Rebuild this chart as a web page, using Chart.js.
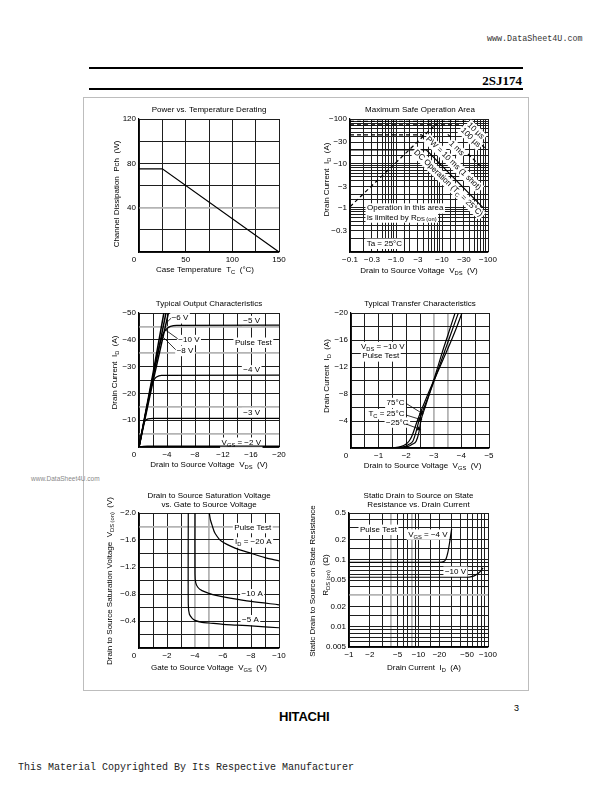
<!DOCTYPE html>
<html><head><meta charset="utf-8">
<script src="https://cdn.jsdelivr.net/npm/chart.js@4/dist/chart.umd.min.js"></script>
<style>
body{margin:0;background:#fff;width:614px;height:792px;position:relative;overflow:hidden;font-family:"Liberation Sans",Arial,sans-serif;color:#000}
.abs{position:absolute;white-space:nowrap;line-height:1}
canvas{position:absolute}
</style></head><body>
<div class="abs" style="left:487px;top:34px;font:8.4px 'Liberation Mono',monospace;color:#333">www.DataSheet4U.com</div>
<div style="position:absolute;left:89px;top:67px;width:434px;height:1.5px;background:#000"></div>
<div class="abs" style="right:92px;top:73px;font:bold 13px 'Liberation Serif',serif;">2SJ174</div>
<div style="position:absolute;left:89px;top:88px;width:434px;height:1.5px;background:#000"></div>
<div style="position:absolute;left:83px;top:97px;width:444px;height:592px;border:1px solid #bdbdbd"></div>
<div class="abs" style="left:31px;top:475px;font:6.5px 'Liberation Sans',Arial,sans-serif;color:#888">www.DataSheet4U.com</div>
<div class="abs" style="left:514px;top:703px;font:9px 'Liberation Sans',Arial,sans-serif;">3</div>
<div class="abs" style="left:279px;top:709px;font:bold 13px 'Liberation Sans',Arial,sans-serif;letter-spacing:-0.2px">HITACHI</div>
<div class="abs" style="left:18px;top:762px;font:10px 'Liberation Mono',monospace;color:#222">This Material Copyrighted By Its Respective Manufacturer</div>
<script>
// ================= DATA =================
// Chart 1: Power vs. Temperature Derating
const derateTc  = [0, 25, 150];
const deratePch = [75, 75, 0];
const c1XLabelVals = [50, 100, 150];
const c1YLabelVals = [40, 80, 120];

// Chart 2: Maximum Safe Operation Area  (magnitudes |VDS| V, |ID| A on log axes; labelled negative)
const soaRdsV   = [0.1, 7.7];          const soaRdsI   = [1.05, 80];
const soa10usV  = [0.1, 45, 86];       const soa10usI  = [88, 88, 46];
const soa100usV = [0.1, 26, 86];       const soa100usI = [74, 74, 22];
const soa1msV   = [13.4, 80];          const soa1msI   = [45, 7.4];
const soa10msV  = [0.1, 3.6, 80];      const soa10msI  = [44, 44, 2.9];
const soaDcV    = [0.1, 4.6, 78];      const soaDcI    = [20, 20, 1.0];
const c2XLabelVals = [0.1, 0.3, 1, 3, 10, 30, 100];
const c2XLabelTxt  = ['\u22120.1', '\u22120.3', '\u22121.0', '\u22123', '\u221210', '\u221230', '\u2212100'];
const c2YLabelVals = [0.3, 1, 3, 10, 30, 100];
const c2YLabelTxt  = ['\u22120.3', '\u22121', '\u22123', '\u221210', '\u221230', '\u2212100'];

// Chart 3: Typical Output Characteristics (VDS V, ID A)
const out10Vds = [0, -2, -3.55];                 const out10Id = [0, -27.5, -50];
const out8Vds  = [0, -2, -3.85];                 const out8Id  = [0, -26, -50];
const out6Vds  = [0, -2, -4.2];                  const out6Id  = [0, -24.5, -50];
const out5Vds  = [0, -1.5, -2.5, -3.2, -3.5, -4.0, -4.5, -5.4, -20];
const out5Id   = [0, -20, -33, -40.5, -42.5, -44.2, -45.0, -45.4, -45.5];
const out4Vds  = [0, -1.0, -1.5, -1.8, -2.2, -2.5, -3.2, -20];
const out4Id   = [0, -13.5, -19.5, -22.8, -25.3, -26.1, -26.7, -26.8];
const out3Vds  = [0, -0.5, -0.76, -1.0, -1.33, -2.05, -20];
const out3Id   = [0, -6.5, -9.3, -10.1, -10.5, -10.7, -10.7];
const out2Vds  = [0, -0.6, -1.2, -20];           const out2Id  = [0, -0.25, -0.35, -0.35];
const lead6Vds = [-4.1, -4.6];   const lead6Id = [-46.8, -48.1];
const lead10Vds = [-3.71, -5.53]; const lead10Id = [-43.8, -40.4];
const lead8Vds = [-3.48, -5.24];  const lead8Id = [-40.9, -36.3];
const c3XLabelVals = [-4, -8, -12, -16, -20];
const c3YLabelVals = [-10, -20, -30, -40, -50];

// Chart 4: Typical Transfer Characteristics (VGS V, ID A)
const tr75Vgs  = [-1.5, -1.8, -2.0, -2.1, -2.2, -2.4, -2.6, -2.8, -3.0, -3.2, -3.4, -3.6, -3.8, -4.02];
const tr75Id   = [0, -0.2, -0.6, -1.0, -1.7, -4.0, -6.1, -8.1, -10.0, -11.8, -13.7, -15.6, -17.6, -20];
const tr25Vgs  = [-1.6, -1.95, -2.1, -2.24, -2.35, -2.46, -2.6, -2.8, -3.0, -3.2, -3.4, -3.6, -3.89];
const tr25Id   = [0, -0.2, -0.55, -1.0, -2.3, -4.0, -5.5, -7.6, -9.8, -12.1, -14.4, -16.7, -20];
const trm25Vgs = [-1.7, -2.05, -2.22, -2.36, -2.46, -2.53, -2.7, -2.9, -3.1, -3.3, -3.5, -3.77];
const trm25Id  = [0, -0.2, -0.55, -1.0, -2.3, -4.0, -6.2, -8.8, -11.4, -14.1, -16.6, -20];
const arr75Vgs = [-1.99, -2.55];  const arr75Id = [-6.62, -5.2];
const arr25Vgs = [-1.99, -2.5];   const arr25Id = [-4.89, -4.25];
const arrm25Vgs = [-1.99, -2.45]; const arrm25Id = [-3.56, -2.85];
const c4XLabelVals = [-1, -2, -3, -4, -5];
const c4YLabelVals = [-4, -8, -12, -16, -20];

// Chart 5: VDS(on) vs VGS
const sat20Vgs = [-5.02, -5.1, -5.25, -5.43, -5.9, -6.86, -8.05, -9, -10];
const sat20Vds = [-2.0, -1.9, -1.8, -1.70, -1.58, -1.48, -1.40, -1.34, -1.29];
const sat10Vgs = [-4.0, -4.0, -4.05, -4.2, -4.5, -5, -5.5, -6.5, -8, -10];
const sat10Vds = [-2.0, -1.1, -0.97, -0.9, -0.85, -0.81, -0.78, -0.74, -0.69, -0.64];
const sat5Vgs  = [-3.52, -3.52, -3.6, -3.8, -4.0, -4.5, -5, -6, -7, -8.5, -10];
const sat5Vds  = [-2.0, -0.65, -0.5, -0.44, -0.41, -0.38, -0.37, -0.35, -0.34, -0.32, -0.30];
const c5XLabelVals = [-2, -4, -6, -8, -10];
const c5YLabelVals = [-0.4, -0.8, -1.2, -1.6, -2.0];

// Chart 6: RDS(on) vs ID  (|ID| A on log axis, labelled negative)
const ron4Id  = [1, 20, 23, 25, 26.5, 28, 29, 30];
const ron4R   = [0.092, 0.092, 0.094, 0.105, 0.13, 0.18, 0.23, 0.29];
const ron10Id = [1, 50, 58, 66, 74, 80, 85];
const ron10R  = [0.055, 0.055, 0.056, 0.059, 0.064, 0.07, 0.076];
const c6XLabelVals = [1, 2, 5, 10, 20, 50, 100];
const c6YLabelVals = [0.005, 0.01, 0.02, 0.05, 0.1, 0.2, 0.5];

// ================= HELPERS =================
const FAM = '"Liberation Sans", Arial, sans-serif';
Chart.defaults.font.family = FAM;
Chart.defaults.color = '#000';
const M = '\u2212';
const near = (a, b) => Math.abs(a - b) <= 1e-6 * Math.max(1, Math.abs(b));
function labelCb(vals, texts, fmt) {
  return (v) => {
    const i = vals.findIndex(t => near(v, t));
    if (i < 0) return '';
    if (texts) return texts[i];
    return fmt ? fmt(vals[i]) : (vals[i] < 0 ? M + Math.abs(vals[i]) : String(vals[i]));
  };
}
function series(xs, ys, opt) {
  return Object.assign({
    data: xs.map((x, i) => ({x: x, y: ys[i]})),
    borderColor: '#000', borderWidth: 1.2, pointRadius: 0, fill: false, tension: 0
  }, opt || {});
}
function arrowRot(c) {
  const ch = c.chart, d = c.dataset.data, sx = ch.scales.x, sy = ch.scales.y;
  const x0 = sx.getPixelForValue(d[0].x), y0 = sy.getPixelForValue(d[0].y);
  const x1 = sx.getPixelForValue(d[1].x), y1 = sy.getPixelForValue(d[1].y);
  return Math.atan2(y1 - y0, x1 - x0) * 180 / Math.PI + 90;
}
function arrow(xs, ys) {
  return series(xs, ys, {borderWidth: 0.8, pointStyle: 'triangle', backgroundColor: '#000',
    pointBackgroundColor: '#000', pointBorderColor: '#000', pointBorderWidth: 0.5,
    pointRadius: c => c.dataIndex === 1 ? 2.2 : 0, pointRotation: arrowRot});
}
function parseRich(str) {
  const out = []; const re = /_\{([^}]*)\}/g; let last = 0, m;
  while ((m = re.exec(str))) {
    if (m.index > last) out.push({s: str.slice(last, m.index), sub: false});
    out.push({s: m[1], sub: true}); last = re.lastIndex;
  }
  if (last < str.length) out.push({s: str.slice(last), sub: false});
  return out;
}
function drawRich(ctx, str, x, y, o) {
  const size = o.size || 8;
  const segs = parseRich(str);
  const fontFor = s => (o.bold ? 'bold ' : '') + (s.sub ? size * 0.72 : size) + 'px ' + FAM;
  let w = 0;
  segs.forEach(s => { ctx.font = fontFor(s); s.w = ctx.measureText(s.s).width; w += s.w; });
  ctx.save(); ctx.translate(x, y); if (o.rot) ctx.rotate(o.rot * Math.PI / 180);
  let x0 = o.align === 'left' ? 0 : o.align === 'right' ? -w : -w / 2;
  if (o.bg) { ctx.fillStyle = '#fff'; ctx.fillRect(x0 - 1.5, -size * 0.62, w + 3, size * 1.3); }
  ctx.fillStyle = '#000'; ctx.textBaseline = 'middle'; ctx.textAlign = 'left';
  segs.forEach(s => { ctx.font = fontFor(s); ctx.fillText(s.s, x0, s.sub ? size * 0.32 : 0); x0 += s.w; });
  ctx.restore();
}
function resolvePos(chart, it) {
  const a = chart.chartArea;
  if (it.data) return {x: chart.scales.x.getPixelForValue(it.data[0]), y: chart.scales.y.getPixelForValue(it.data[1])};
  const hx = it.h[0] === 'l' ? a.left : it.h[0] === 'r' ? a.right : (a.left + a.right) / 2;
  const vy = it.v[0] === 't' ? a.top : it.v[0] === 'b' ? a.bottom : (a.top + a.bottom) / 2;
  return {x: hx + it.h[1], y: vy + it.v[1]};
}
function drawItems(chart, layer) {
  const items = (chart.options.plugins.rich && chart.options.plugins.rich.items) || [];
  const ctx = chart.ctx;
  items.forEach(it => {
    if ((it.layer || 'under') !== layer) return;
    const p = resolvePos(chart, it);
    drawRich(ctx, it.t, p.x, p.y, it);
  });
}
const richPlugin = {
  id: 'rich',
  beforeDatasetsDraw(chart) { drawItems(chart, 'under'); },
  afterDatasetsDraw(chart) { drawItems(chart, 'over'); }
};
Chart.register(richPlugin);

const PADL = 48, PADB = 28, PADT = 28, PADR = 16;
function axis(pos, o) {
  const grey = o.grey || [];
  const isGrey = c => c.tick && grey.some(g => near(c.tick.value, g));
  return {
    type: o.type || 'linear', position: pos, min: o.min, max: o.max, reverse: !!o.reverse,
    afterFit: s => { if (pos === 'bottom') s.height = PADB; else s.width = PADL; },
    ticks: {stepSize: o.step, autoSkip: false, maxRotation: 0, minRotation: 0, padding: 3,
      color: '#000', font: {size: 8, family: FAM}, callback: o.cb},
    grid: {drawTicks: false, color: c => isGrey(c) ? '#b4b4b4' : '#1e1e1e',
      lineWidth: c => isGrey(c) ? 1.8 : 1},
    border: {display: true, color: '#000', width: 1.2},
    title: {display: false}
  };
}
function makeChart(box, datasets, xo, yo, items) {
  const cv = document.createElement('canvas');
  const w = box.R - box.L + PADL + PADR, h = box.B - box.T + PADT + PADB;
  cv.width = w; cv.height = h;
  cv.style.left = (box.L - PADL) + 'px'; cv.style.top = (box.T - PADT) + 'px';
  cv.style.width = w + 'px'; cv.style.height = h + 'px';
  document.body.appendChild(cv);
  return new Chart(cv.getContext('2d'), {
    type: 'line',
    data: {datasets: datasets},
    options: {
      responsive: false, animation: false, devicePixelRatio: 1, events: [],
      layout: {padding: {top: PADT, right: PADR, left: 0, bottom: 0}, autoPadding: false},
      plugins: {legend: {display: false}, tooltip: {enabled: false}, title: {display: false}, rich: {items: items}},
      scales: {x: axis('bottom', xo), y: axis('left', yo)}
    }
  });
}
const corner0 = {t: '0', h: ['l', -5], v: ['b', 7.5]};

// ================= CHART 1 =================
makeChart({L: 139, T: 119, R: 279, B: 252},
  [series(derateTc, deratePch)],
  {min: 0, max: 150, step: 25, cb: labelCb(c1XLabelVals)},
  {min: 0, max: 120, step: 20, cb: labelCb(c1YLabelVals), grey: [40]},
  [
    {t: 'Power vs. Temperature Derating', h: ['c', 0], v: ['t', -9]},
    {t: 'Case Temperature  T_{C}  (\u00B0C)', h: ['c', -4], v: ['b', 18]},
    {t: 'Channel Dissipation  Pch  (W)', h: ['l', -22], v: ['m', 8.5], rot: -90},
    corner0
  ]);

// ================= CHART 2 =================
const dash = {borderDash: [4, 3]};
makeChart({L: 350, T: 119, R: 488, B: 252},
  [series(soaRdsV, soaRdsI, dash), series(soa10usV, soa10usI, dash), series(soa100usV, soa100usI, dash),
   series(soa1msV, soa1msI, dash), series(soa10msV, soa10msI, dash), series(soaDcV, soaDcI)],
  {type: 'logarithmic', min: 0.1, max: 100, cb: labelCb(c2XLabelVals, c2XLabelTxt)},
  {type: 'logarithmic', min: 0.1, max: 100, cb: labelCb(c2YLabelVals, c2YLabelTxt)},
  [
    {t: 'Maximum Safe Operation Area', h: ['c', 1], v: ['t', -9]},
    {t: 'Drain to Source Voltage  V_{DS}  (V)', h: ['c', 0], v: ['b', 18.5]},
    {t: 'Drain Current  I_{D}  (A)', h: ['l', -23], v: ['m', -6], rot: -90},
    {t: '10 \u00B5s', data: [54, 54], rot: 44, bg: true, layer: 'over'},
    {t: '100 \u00B5s', data: [42, 38], rot: 44, bg: true, layer: 'over'},
    {t: '1 ms', data: [20.8, 21.8], rot: 44, bg: true, layer: 'over'},
    {t: 'PW = 10 ms (1 shot)', data: [17.7, 10], rot: 44, bg: true, layer: 'over'},
    {t: 'DC Operation (T_{C} = 25\u00B0C)', data: [13.7, 3.56], rot: 44, bg: true, layer: 'over'},
    {t: 'Operation in this area', data: [0.234, 0.97], align: 'left', bg: true, layer: 'over'},
    {t: 'is limited by R_{DS (on)}', data: [0.234, 0.606], align: 'left', bg: true, layer: 'over'},
    {t: 'Ta = 25\u00B0C', data: [0.23, 0.155], align: 'left', bg: true}
  ]);

// ================= CHART 3 =================
const mono = {cubicInterpolationMode: 'monotone'};
const thin = {borderWidth: 0.8};
makeChart({L: 139, T: 313, R: 279, B: 447},
  [series(out10Vds, out10Id, {borderWidth: 1.5}), series(out8Vds, out8Id, {borderWidth: 1.5}),
   series(out6Vds, out6Id, {borderWidth: 1.5}),
   series(out5Vds, out5Id, mono), series(out4Vds, out4Id, mono), series(out3Vds, out3Id, mono),
   series(out2Vds, out2Id, mono),
   series(lead6Vds, lead6Id, thin), series(lead10Vds, lead10Id, thin), series(lead8Vds, lead8Id, thin)],
  {min: -20, max: 0, reverse: true, step: 2, cb: labelCb(c3XLabelVals)},
  {min: -50, max: 0, reverse: true, step: 5, cb: labelCb(c3YLabelVals), grey: [-45, -35, -15, -5]},
  [
    {t: 'Typical Output Characteristics', h: ['c', 0], v: ['t', -9]},
    {t: 'Drain to Source Voltage  V_{DS}  (V)', h: ['c', 0], v: ['b', 18]},
    {t: 'Drain Current  I_{D}  (A)', h: ['l', -24], v: ['m', -7.5], rot: -90},
    corner0,
    {t: M + '6 V', data: [-4.67, -48.1], align: 'left', bg: true},
    {t: M + '10 V', data: [-5.62, -40.0], align: 'left', bg: true},
    {t: M + '8 V', data: [-5.38, -35.9], align: 'left', bg: true},
    {t: M + '5 V', data: [-14.9, -47.1], align: 'left', bg: true},
    {t: 'Pulse Test', data: [-13.7, -39], align: 'left', bg: true},
    {t: M + '4 V', data: [-14.9, -28.7], align: 'left', bg: true},
    {t: M + '3 V', data: [-14.9, -12.8], align: 'left', bg: true},
    {t: 'V_{GS} = ' + M + '2 V', data: [-11.8, -1.7], align: 'left', bg: true}
  ]);

// ================= CHART 4 =================
makeChart({L: 351, T: 313, R: 489, B: 448},
  [series(tr75Vgs, tr75Id, mono), series(tr25Vgs, tr25Id, mono), series(trm25Vgs, trm25Id, mono),
   arrow(arr75Vgs, arr75Id), arrow(arr25Vgs, arr25Id), arrow(arrm25Vgs, arrm25Id)],
  {min: -5, max: 0, reverse: true, step: 0.5, cb: labelCb(c4XLabelVals), grey: [-3, -3.5]},
  {min: -20, max: 0, reverse: true, step: 2, cb: labelCb(c4YLabelVals)},
  [
    {t: 'Typical Transfer Characteristics', h: ['c', 0], v: ['t', -9]},
    {t: 'Drain to Source Voltage  V_{GS}  (V)', h: ['c', 2.5], v: ['b', 18]},
    {t: 'Drain Current  I_{D}  (A)', h: ['l', -24], v: ['m', -4.5], rot: -90},
    corner0,
    {t: 'V_{DS} = ' + M + '10 V', data: [-0.36, -15.0], align: 'left', bg: true},
    {t: 'Pulse Test', data: [-0.41, -13.6], align: 'left', bg: true},
    {t: '75\u00B0C', data: [-1.29, -6.71], align: 'left', bg: true},
    {t: 'T_{C} = 25\u00B0C', data: [-0.63, -5.04], align: 'left', bg: true},
    {t: M + '25\u00B0C', data: [-1.27, -3.8], align: 'left', bg: true}
  ]);

// ================= CHART 5 =================
const smooth = {tension: 0.3};
makeChart({L: 139, T: 513, R: 279, B: 648},
  [series(sat20Vgs, sat20Vds, smooth), series(sat10Vgs, sat10Vds, smooth), series(sat5Vgs, sat5Vds, smooth)],
  {min: -10, max: 0, reverse: true, step: 1, cb: labelCb(c5XLabelVals), grey: [-4, -5]},
  {min: -2, max: 0, reverse: true, step: 0.2, grey: [-1.8],
    cb: labelCb(c5YLabelVals, null, v => M + Math.abs(v).toFixed(1))},
  [
    {t: 'Drain to Source Saturation Voltage', h: ['c', 0], v: ['t', -17]},
    {t: 'vs. Gate to Source Voltage', h: ['c', 0], v: ['t', -8]},
    {t: 'Gate to Source Voltage  V_{GS}  (V)', h: ['c', 0], v: ['b', 20]},
    {t: 'Drain to Source Saturation Voltage  V_{DS (on)}  (V)', h: ['l', -29], v: ['m', 0.5], rot: -90},
    corner0,
    {t: 'Pulse Test', data: [-6.81, -1.78], align: 'left', bg: true},
    {t: 'I_{D} = ' + M + '20 A', data: [-6.86, -1.566], align: 'left', bg: true},
    {t: M + '10 A', data: [-7.33, -0.8], align: 'left', bg: true},
    {t: M + '5 A', data: [-7.36, -0.415], align: 'left', bg: true}
  ]);

// ================= CHART 6 =================
makeChart({L: 349, T: 513, R: 488, B: 647},
  [series(ron4Id, ron4R, mono), series(ron10Id, ron10R, mono)],
  {type: 'logarithmic', min: 1, max: 100, grey: [4, 8], cb: labelCb(c6XLabelVals, null, v => M + v)},
  {type: 'logarithmic', min: 0.005, max: 0.5, grey: [0.03], cb: labelCb(c6YLabelVals, null, v => String(v))},
  [
    {t: 'Static Drain to Source on State', h: ['c', 0], v: ['t', -17]},
    {t: 'Resistance vs. Drain Current', h: ['c', 0], v: ['t', -8.5]},
    {t: 'Drain Current  I_{D}  (A)', h: ['c', 5.5], v: ['b', 21]},
    {t: 'Static Drain to Source on State Resistance', h: ['l', -36], v: ['m', 1], rot: -90},
    {t: 'R_{DS (on)}  (\u03A9)', h: ['l', -23], v: ['m', -5], rot: -90},
    {t: 'Pulse Test', data: [1.44, 0.283], align: 'left', bg: true},
    {t: 'V_{GS} = ' + M + '4 V', data: [7.1, 0.24], align: 'left', bg: true},
    {t: M + '10 V', data: [24, 0.067], align: 'left', bg: true}
  ]);
</script>
</body></html>
